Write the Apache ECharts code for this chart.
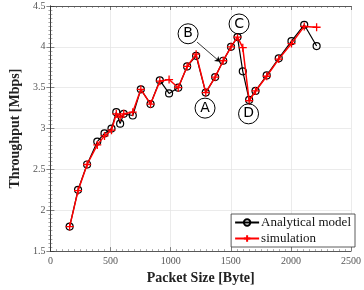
<!DOCTYPE html>
<html>
<head>
<meta charset="utf-8">
<script src="https://cdn.jsdelivr.net/npm/echarts@6/dist/echarts.min.js"></script>
<style>html,body{margin:0;padding:0;background:#fff}#c{width:364px;height:290px}</style>
</head>
<body>
<div id="c"></div>
<script>
const packetSize = [160, 230, 305, 390, 450, 508, 548, 580, 610, 685, 752, 833, 910, 987, 1063, 1137, 1212, 1292, 1370, 1437, 1502, 1556, 1600, 1653, 1706, 1799, 1899, 2005, 2111, 2214];
const analytical = [1.80, 2.25, 2.56, 2.84, 2.94, 3.00, 3.20, 3.06, 3.18, 3.16, 3.48, 3.30, 3.59, 3.43, 3.50, 3.76, 3.89, 3.44, 3.63, 3.83, 4.00, 4.12, 3.70, 3.35, 3.46, 3.65, 3.86, 4.07, 4.27, 4.01];
const simulation = [1.80, 2.24, 2.56, 2.80, 2.91, 2.98, 3.18, 3.14, 3.18, 3.20, 3.48, 3.30, 3.58, 3.60, 3.50, 3.76, 3.91, 3.44, 3.63, 3.83, 4.00, 4.12, 3.99, 3.34, 3.46, 3.64, 3.85, 4.04, 4.25, 4.24];
const xTicks = {min: 0, max: 2500, step: 500};
const yTicks = {min: 1.5, max: 4.5, step: 0.5};
const labels = [
  {name: 'A', coord: [1286, 3.25]},
  {name: 'B', coord: [1145, 4.16]},
  {name: 'C', coord: [1569, 4.28]},
  {name: 'D', coord: [1648, 3.18]}
];
const arrow = [[1220, 4.058], [1410, 3.817]];

const serif = 'Liberation Serif';
const axisCommon = {
  type: 'value',
  axisLine: {show: true, lineStyle: {color: '#333', width: 0.8}},
  axisTick: {show: true, inside: true, length: 4, lineStyle: {color: '#333', width: 0.6}},
  minorTick: {show: true, splitNumber: 10, length: 2, lineStyle: {color: '#555', width: 0.5}},
  axisLabel: {color: '#555', fontSize: 10, fontFamily: serif, formatter: v => String(v)},
  splitLine: {show: true, lineStyle: {color: '#e6e6e6', width: 0.8}}
};
const hiddenAxis = {
  axisLabel: {show: false},
  splitLine: {show: false}
};
const plus = 'path://M5,0L5,10M0,5L10,5';

const chart = echarts.init(document.getElementById('c'), null, {renderer: 'canvas'});
chart.setOption({
  animation: false,
  grid: {left: 45, right: 4, top: 6, bottom: 35},
  xAxis: [
    Object.assign({}, axisCommon, {
      min: xTicks.min, max: xTicks.max, interval: xTicks.step, position: 'bottom',
      axisLabel: Object.assign({}, axisCommon.axisLabel, {margin: 5}),
      name: 'Packet Size [Byte]', nameLocation: 'middle', nameGap: 17,
      nameTextStyle: {fontFamily: serif, fontWeight: 'bold', fontSize: 14, color: '#222'}
    }),
    Object.assign({}, axisCommon, hiddenAxis, {
      min: xTicks.min, max: xTicks.max, interval: xTicks.step, position: 'top'
    })
  ],
  yAxis: [
    Object.assign({}, axisCommon, {
      min: yTicks.min, max: yTicks.max, interval: yTicks.step, position: 'left',
      axisLabel: Object.assign({}, axisCommon.axisLabel, {margin: 5}),
      name: 'Throughput [Mbps]', nameLocation: 'middle', nameGap: 20,
      nameTextStyle: {fontFamily: serif, fontWeight: 'bold', fontSize: 14, color: '#222'}
    }),
    Object.assign({}, axisCommon, hiddenAxis, {
      min: yTicks.min, max: yTicks.max, interval: yTicks.step, position: 'right'
    })
  ],
  legend: {
    orient: 'vertical', right: 9, top: 214,
    backgroundColor: '#fff', borderColor: '#333', borderWidth: 0.8, borderRadius: 0,
    padding: [2, 4, 2, 3], itemGap: 3, itemWidth: 24, itemHeight: 8,
    textStyle: {fontFamily: serif, fontSize: 13, color: '#111', padding: [0, 0, 0, -3]},
    data: [
      {name: 'Analytical model'},
      {name: 'simulation'}
    ]
  },
  series: [
    {
      name: 'Analytical model', type: 'line',
      data: packetSize.map((x, i) => [x, analytical[i]]),
      symbol: 'circle', symbolSize: 7, showAllSymbol: true,
      lineStyle: {color: '#000', width: 1.2},
      itemStyle: {color: 'rgba(0,0,0,0)', borderColor: '#000', borderWidth: 1.2},
      markPoint: {
        symbol: 'circle', symbolSize: 20, silent: true,
        itemStyle: {color: 'rgba(255,255,255,0)', borderColor: '#000', borderWidth: 1},
        label: {show: true, formatter: p => p.name, color: '#000', fontSize: 14, fontFamily: 'DejaVu Sans', offset: [0, 0]},
        data: labels.map(l => ({name: l.name, coord: l.coord}))
      },
      markLine: {
        silent: true, symbol: ['none', 'arrow'], symbolSize: 5,
        lineStyle: {color: '#000', width: 0.8, type: 'solid'},
        label: {show: false},
        data: [[{coord: arrow[0]}, {coord: arrow[1]}]]
      },
      z: 2
    },
    {
      name: 'simulation', type: 'line',
      data: packetSize.map((x, i) => [x, simulation[i]]),
      symbol: plus, symbolSize: 8, showAllSymbol: true,
      lineStyle: {color: '#ff0000', width: 1.5},
      itemStyle: {color: '#ff0000', borderColor: '#ff0000', borderWidth: 1.3},
      z: 3
    }
  ]
});
</script>
</body>
</html>
